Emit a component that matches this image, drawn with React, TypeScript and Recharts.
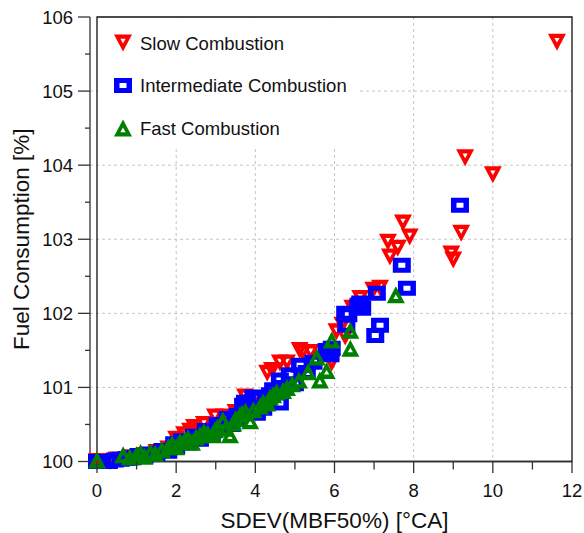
import { ScatterChart, Scatter, XAxis, YAxis, CartesianGrid, ReferenceArea, Legend, Label } from 'recharts';

const FONT = '"Liberation Sans", Arial, Helvetica, sans-serif';

// Slow combustion (red, down triangles)
const slowX = [0, 0.33, 0.5, 0.9, 1.2, 1.5, 1.8, 2.0, 2.2, 2.35, 2.45, 2.7, 2.98, 3.2, 3.5, 3.74, 3.82, 4.05, 4.3, 4.42, 4.62, 4.8, 5.12, 5.2, 5.4, 5.93, 6.05, 6.2, 6.27, 6.45, 6.6, 6.65, 6.98, 7.15, 7.35, 7.4, 7.6, 7.73, 7.9, 8.95, 9.0, 9.2, 9.3, 10.0, 11.62];
const slowY = [100.0, 100.0, 100.02, 100.05, 100.08, 100.12, 100.17, 100.3, 100.36, 100.41, 100.46, 100.5, 100.6, 100.6, 100.66, 100.87, 100.79, 100.76, 101.19, 101.23, 101.33, 101.33, 101.5, 101.47, 101.47, 101.33, 101.75, 101.84, 101.68, 102.07, 102.1, 102.2, 102.31, 102.34, 102.96, 102.76, 102.88, 103.22, 103.03, 102.8, 102.72, 103.08, 104.1, 103.87, 105.66];

// Intermediate combustion (blue, squares)
const interX = [0, 0.3, 0.45, 0.6, 0.75, 0.9, 1.05, 1.2, 1.35, 1.5, 1.65, 1.8, 1.95, 2.0, 2.15, 2.3, 2.45, 2.6, 2.75, 2.9, 3.05, 3.2, 3.3, 3.4, 3.5, 3.55, 3.69, 3.74, 3.85, 3.95, 4.04, 4.1, 4.2, 4.37, 4.45, 4.62, 4.62, 4.75, 4.87, 5.0, 5.13, 5.3, 5.47, 5.8, 5.9, 5.93, 6.27, 6.3, 6.35, 6.6, 6.65, 6.7, 7.03, 7.07, 7.15, 7.7, 7.83, 9.17];
const interY = [100.0, 100.0, 100.02, 100.03, 100.04, 100.05, 100.08, 100.07, 100.1, 100.1, 100.15, 100.14, 100.24, 100.2, 100.28, 100.25, 100.34, 100.3, 100.42, 100.37, 100.5, 100.45, 100.58, 100.5, 100.57, 100.62, 100.76, 100.8, 100.7, 100.87, 100.65, 100.85, 100.72, 100.9, 100.97, 100.79, 101.1, 101.0, 101.17, 101.05, 101.3, 101.2, 101.34, 101.5, 101.44, 101.53, 102.0, 101.84, 101.98, 102.1, 102.14, 102.07, 101.7, 102.27, 101.84, 102.65, 102.34, 103.46];

// Fast combustion (green, up triangles)
const fastX = [0, 0.66, 0.83, 1.0, 1.1, 1.2, 1.35, 1.47, 1.64, 1.8, 1.9, 2.0, 2.1, 2.22, 2.3, 2.4, 2.5, 2.6, 2.7, 2.8, 2.93, 2.98, 3.05, 3.18, 3.25, 3.36, 3.44, 3.5, 3.61, 3.66, 3.75, 3.87, 3.95, 4.12, 4.2, 4.3, 4.37, 4.45, 4.54, 4.7, 4.8, 4.93, 5.1, 5.33, 5.55, 5.63, 5.8, 5.93, 6.4, 6.4, 7.55];
const fastY = [100.02, 100.09, 100.06, 100.09, 100.12, 100.07, 100.13, 100.11, 100.16, 100.2, 100.24, 100.2, 100.27, 100.29, 100.32, 100.26, 100.33, 100.36, 100.4, 100.38, 100.36, 100.43, 100.47, 100.56, 100.45, 100.36, 100.52, 100.58, 100.63, 100.65, 100.68, 100.55, 100.7, 100.75, 100.8, 100.79, 100.87, 100.9, 100.94, 100.96, 101.0, 101.05, 101.1, 101.21, 101.41, 101.1, 101.23, 101.64, 101.77, 101.53, 102.25];

const seriesNames = ['Slow Combustion', 'Intermediate Combustion', 'Fast Combustion'];
const seriesColors = ['#ff0000', '#0000ff', '#008000'];

const xTicks = [0, 1, 2, 3, 4, 5, 6, 7, 8, 9, 10, 11, 12];
const yTicks = [100, 100.5, 101, 101.5, 102, 102.5, 103, 103.5, 104, 104.5, 105, 105.5, 106];
const xGrid = [2, 4, 6, 8, 10];
const yGrid = [101, 102, 103, 104, 105];

const toPoints = (xs: number[], ys: number[]) => xs.map((x, i) => ({ x, y: ys[i] }));
const slowData = toPoints(slowX, slowY);
const interData = toPoints(interX, interY);
const fastData = toPoints(fastX, fastY);

// hollow markers: outer shape with a small hole (evenodd), so overlapping marks show through
const triPath = (cx: number, cy: number, s: number) =>
  `M${cx - 9},${cy - 8.5 * s}L${cx + 9},${cy - 8.5 * s}L${cx},${cy + 8.5 * s}Z` +
  `M${cx - 2.6},${cy - 4.2 * s}L${cx + 2.6},${cy - 4.2 * s}L${cx},${cy + 0.4 * s}Z`;
const squarePath = (cx: number, cy: number) =>
  `M${cx - 9},${cy - 7.5}H${cx + 9}V${cy + 7.5}H${cx - 9}Z` +
  `M${cx - 3.5},${cy - 2.5}H${cx + 3.5}V${cy + 2.5}H${cx - 3.5}Z`;

const markerPath = (kind: number, cx: number, cy: number) =>
  kind === 0 ? triPath(cx, cy, 1) : kind === 1 ? squarePath(cx, cy) : triPath(cx, cy, -1);

const makeShape = (kind: number) => (p: any) => (
  <path d={markerPath(kind, p.cx, p.cy)} fill={seriesColors[kind]} fillRule="evenodd" />
);

const YTick = ({ x, y, payload }: any) => {
  const major = Number.isInteger(payload.value);
  return (
    <g>
      <line x1={x - (major ? 12 : 5)} x2={x} y1={y} y2={y} stroke="#333" strokeWidth={1.3} />
      {major && (
        <text x={x - 17} y={y + 6.5} textAnchor="end" fontSize={18.5} fontFamily={FONT} fill="#111">
          {payload.value}
        </text>
      )}
    </g>
  );
};

const XTick = ({ x, y, payload }: any) => {
  const major = payload.value % 2 === 0;
  return (
    <g>
      <line x1={x} x2={x} y1={y} y2={y + (major ? 11.5 : 8)} stroke="#333" strokeWidth={1.3} />
      {major && (
        <text x={x} y={y + 35} textAnchor="middle" fontSize={18.5} fontFamily={FONT} fill="#111">
          {payload.value}
        </text>
      )}
    </g>
  );
};

const LegendBox = () => (
  <svg width={261} height={130} style={{ display: 'block', background: '#fff' }}>
    {seriesNames.map((name, i) => (
      <g key={name}>
        <path d={markerPath(i, 25, 25 + i * 42.5)} fill={seriesColors[i]} fillRule="evenodd" />
        <text x={42} y={25 + i * 42.5 + 6.5} fontSize={18.5} fontFamily={FONT} fill="#111">
          {name}
        </text>
      </g>
    ))}
  </svg>
);

export default function App() {
  // absolutely placed so the page gets no scrollbars
  return (
    <div style={{ position: 'absolute', left: 8, top: 8 }}>
      <ScatterChart width={576} height={525} margin={{ top: 9, right: 12, bottom: 0, left: 0 }}>
        <CartesianGrid
          stroke="#c4c4c4"
          strokeDasharray="3 3"
          verticalValues={xGrid}
          horizontalValues={yGrid}
        />
        <XAxis
          type="number"
          dataKey="x"
          domain={[0, 12]}
          ticks={xTicks}
          interval={0}
          padding={{ left: 7, right: 0 }}
          height={71.5}
          tickSize={0}
          tickMargin={0}
          tickLine={false}
          tick={<XTick />}
          axisLine={{ stroke: '#333', strokeWidth: 1.3 }}
        >
          <Label
            content={({ viewBox }: any) => (
              <text
                x={viewBox.x + viewBox.width / 2 + 3.5}
                y={viewBox.y + 66}
                textAnchor="middle"
                fontSize={22.5}
                fontFamily={FONT}
                fill="#111"
              >
                SDEV(MBF50%) [°CA]
              </text>
            )}
          />
        </XAxis>
        <YAxis
          type="number"
          dataKey="y"
          domain={[100, 106]}
          ticks={yTicks}
          interval={0}
          width={82}
          tickSize={0}
          tickMargin={0}
          tickLine={false}
          tick={<YTick />}
          axisLine={{ stroke: '#333', strokeWidth: 1.3 }}
        >
          <Label
            content={({ viewBox }: any) => {
              const cx = viewBox.x + 21;
              const cy = viewBox.y + viewBox.height / 2;
              return (
                <text
                  x={cx}
                  y={cy}
                  transform={`rotate(-90 ${cx} ${cy})`}
                  textAnchor="middle"
                  fontSize={22.5}
                  fontFamily={FONT}
                  fill="#111"
                >
                  Fuel Consumption [%]
                </text>
              );
            }}
          />
        </YAxis>
        <ReferenceArea x1={0} x2={12} y1={100} y2={106} fill="none" stroke="#111" strokeWidth={1.3} />
        <Legend
          layout="vertical"
          align="center"
          verticalAlign="middle"
          wrapperStyle={{ left: 90, top: 10, width: 261, height: 130 }}
          content={() => <LegendBox />}
        />
        <Scatter name={seriesNames[0]} data={slowData} shape={makeShape(0)} isAnimationActive={false} />
        <Scatter name={seriesNames[1]} data={interData} shape={makeShape(1)} isAnimationActive={false} />
        <Scatter name={seriesNames[2]} data={fastData} shape={makeShape(2)} isAnimationActive={false} />
      </ScatterChart>
    </div>
  );
}
